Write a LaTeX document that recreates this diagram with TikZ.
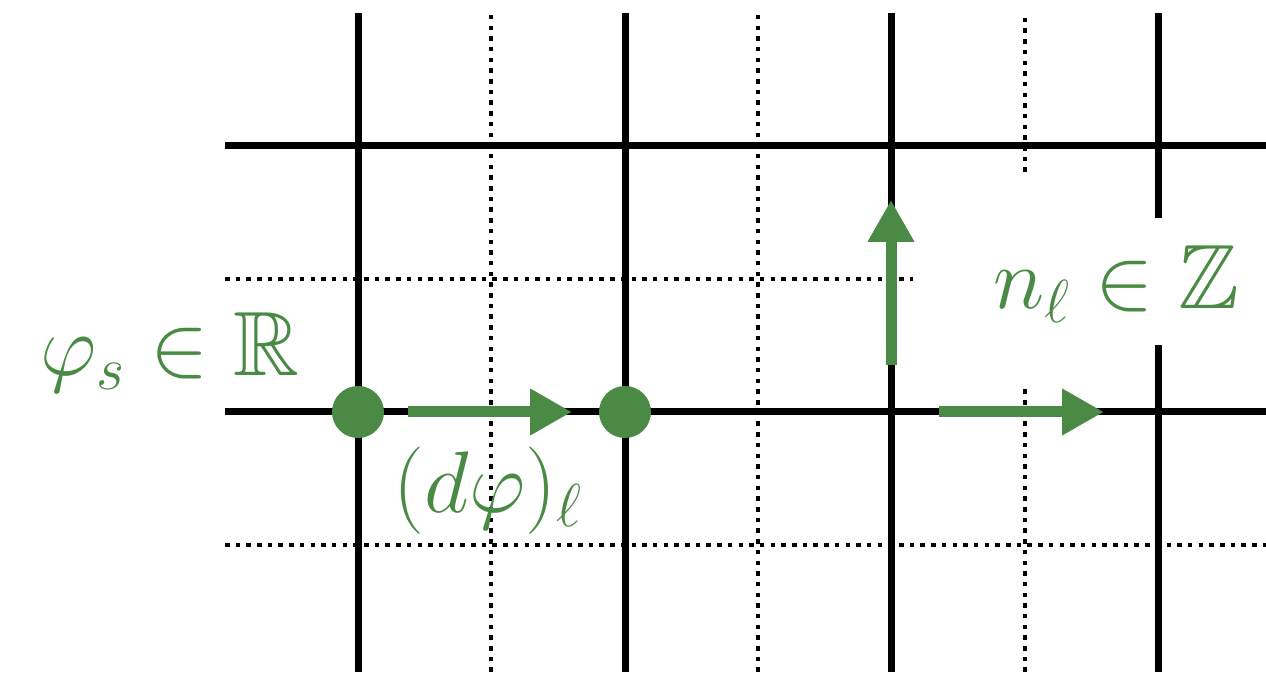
\documentclass[tikz,border=0pt]{standalone}
\usepackage{amsmath,amssymb}
\usetikzlibrary{arrows.meta,positioning}
\definecolor{field}{HTML}{4A8A44}
\tikzset{grid/.style={line width=0.07cm,black},dotgrid/.style={line width=0.045cm,black,dash pattern=on 0.045cm off 0.062cm},garrow/.style={-{Triangle[length=0.42cm,width=0.44cm]},line width=0.11cm,draw=field},site/.style={circle,fill=field,inner sep=0pt,minimum size=0.52cm},lab/.style={text=field,inner sep=0pt,font=\fontsize{26}{30}\selectfont}}
\begin{document}
\begin{tikzpicture}
\useasboundingbox (0,0) rectangle (12.66,6.81);
\draw[grid](3.58,0.09)--(3.58,6.68);\draw[grid](6.25,0.09)--(6.25,6.68);\draw[grid](8.91,0.09)--(8.91,6.68);
\draw[grid](11.58,0.09)--(11.58,3.36);\draw[grid](11.58,4.63)--(11.58,6.68);
\draw[dotgrid](4.91,0.09)--(4.91,6.68);\draw[dotgrid](7.58,0.09)--(7.58,6.68);
\draw[dotgrid](10.25,0.09)--(10.25,2.94);\draw[dotgrid](10.25,5.09)--(10.25,6.68);
\draw[grid](2.25,5.35)--(12.66,5.35);\draw[grid](2.25,2.69)--(12.66,2.69);
\draw[dotgrid](2.25,4.02)--(9.13,4.02);\draw[dotgrid](2.25,1.36)--(12.66,1.36);
\node[site] (s1) at (3.58,2.69) {};
\node[site] (s2) at (6.25,2.69) {};
\coordinate (a1) at (4.08,2.69);\coordinate (b1) at (5.72,2.69);
\coordinate (a2) at (8.91,3.16);\coordinate (b2) at (8.91,4.81);
\coordinate (a3) at (9.39,2.69);\coordinate (b3) at (11.04,2.69);
\draw[garrow](a1)--(b1);\draw[garrow](a2)--(b2);\draw[garrow](a3)--(b3);
\node[lab,anchor=base west] (phi) at (0.40,3.05) {$\varphi_s\in\mathbb{R}$};
\node[lab,anchor=base west] (dphi) at (3.93,1.68) {$(d\varphi)_\ell$};
\node[lab,anchor=base west] (n) at (9.93,3.72) {$n_\ell\in\mathbb{Z}$};
\end{tikzpicture}
\end{document}
